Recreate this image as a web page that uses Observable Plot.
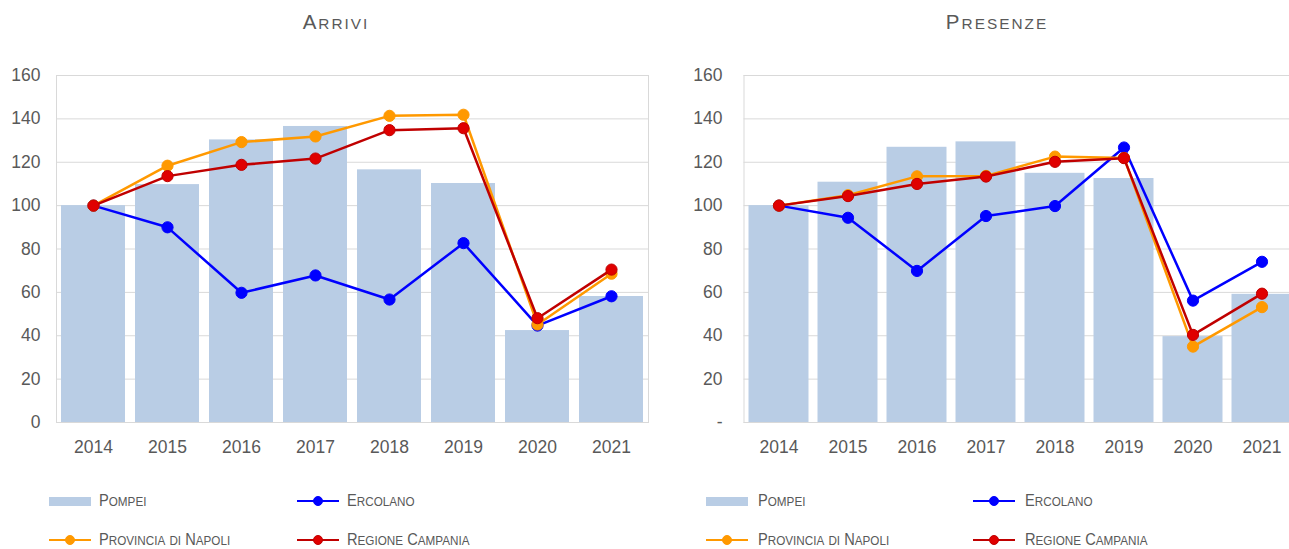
<!DOCTYPE html>
<html>
<head>
<meta charset="utf-8">
<script src="https://cdn.jsdelivr.net/npm/d3@7"></script>
<script src="https://cdn.jsdelivr.net/npm/@observablehq/plot@0.6"></script>
<style>
  html, body { margin: 0; padding: 0; background: #fff; }
  body { width: 1289px; height: 549px; overflow: hidden; position: relative;
         font-family: "Liberation Sans", Arial, sans-serif; color: #595959; }
  .title { position: absolute; top: 8px; height: 28px; line-height: 28px; text-align: center;
           font-size: 20.5px; letter-spacing: 2px; color: #595959; white-space: nowrap; }
  .title .sc { font-size: 75%; }
  .leg .sc { font-size: 80%; }
  .chart { position: absolute; top: 45px; width: 660px; }
  .leg { position: absolute; font-size: 17px; color: #595959;
         line-height: 22px; white-space: nowrap; transform: scaleX(0.86); transform-origin: 0 50%; }
  .sw { position: absolute; }
</style>
</head>
<body>
<script>
// ---- Data ----
const years = ["2014", "2015", "2016", "2017", "2018", "2019", "2020", "2021"];
const yTicks = [0, 20, 40, 60, 80, 100, 120, 140, 160];

const arriviPompei    = [100, 109.7, 130.3, 136.5, 116.5, 110.2, 42.4, 58.1];
const arriviErcolano  = [100, 90.0, 59.8, 67.8, 56.7, 82.7, 44.7, 58.2];
const arriviProvincia = [100, 118.4, 129.3, 131.9, 141.4, 141.9, 45.2, 68.6];
const arriviRegione   = [100, 113.6, 118.8, 121.7, 134.8, 135.7, 48.1, 70.5];

const presenzePompei    = [100, 110.8, 126.9, 129.4, 114.9, 112.5, 39.6, 59.1];
const presenzeErcolano  = [100, 94.4, 69.9, 95.2, 99.8, 126.8, 56.2, 74.1];
const presenzeProvincia = [100, 104.8, 113.5, 113.7, 122.6, 122.0, 35.0, 53.2];
const presenzeRegione   = [100, 104.4, 110.0, 113.4, 120.2, 121.9, 40.4, 59.4];

const seriesNames = ["Pompei", "Ercolano", "Provincia di Napoli", "Regione Campania"];
const titles = ["Arrivi", "Presenze"];

// ---- Styles ----
const barColor = "#b9cde5";
const lineStyles = [
  {stroke: "#0000ff", fill: "#0000ff", dotStroke: "#0000ff"},
  {stroke: "#ff9900", fill: "#ff9900", dotStroke: "#ff9900"},
  {stroke: "#c00000", fill: "#e00000", dotStroke: "#c00000"}
];

// manual small caps: uppercase letters full size, lowercase letters uppercased at reduced size
function smallCaps(s) {
  let out = "";
  for (const ch of s) {
    if (ch !== ch.toUpperCase()) out += '<span class="sc">' + ch.toUpperCase() + "</span>";
    else out += ch;
  }
  return out;
}

function makeChart(pompei, lines, opts) {
  const rows = years.map((y, i) => ({year: y, pompei: pompei[i]}));
  const marks = [
    Plot.gridY(yTicks, {stroke: "#d9d9d9", strokeOpacity: 1, strokeWidth: 1}),
    Plot.barY(rows, {x: "year", y: "pompei", fill: barColor, insetLeft: opts.inset, insetRight: opts.inset}),
    Plot.frame({stroke: "#d9d9d9", strokeWidth: 1}),
    Plot.axisY(yTicks, {tickSize: 0, tickPadding: opts.yPad, tickFormat: opts.fmt, fontSize: 17.5, fill: "#595959"}),
    Plot.axisX({tickSize: 0, tickPadding: 18, fontSize: 17.5, fill: "#595959"})
  ];
  lines.forEach((vals, k) => {
    const d = years.map((y, i) => ({year: y, v: vals[i]}));
    const st = lineStyles[k];
    marks.push(Plot.line(d, {x: "year", y: "v", stroke: st.stroke, strokeWidth: 2.5}));
    marks.push(Plot.dot(d, {x: "year", y: "v", r: 5.6, fill: st.fill, stroke: st.dotStroke, strokeWidth: 1}));
  });
  return Plot.plot({
    width: opts.width, height: 420,
    marginTop: 30, marginBottom: 43, marginLeft: opts.ml, marginRight: opts.mr,
    style: {fontFamily: "'Liberation Sans', Arial, sans-serif", color: "#595959", background: "transparent", overflow: "visible", maxWidth: "none"},
    x: {domain: years, padding: 0, label: null, axis: null},
    y: {domain: [0, 160], label: null, axis: null},
    marks
  });
}

function addEl(html, cls, style) {
  const el = document.createElement("div");
  el.className = cls;
  Object.assign(el.style, style);
  el.innerHTML = html;
  document.body.appendChild(el);
  return el;
}

function addLegend(x0, x1, textOff) {
  const r1 = 501, r2 = 540;
  addEl("", "sw", {left: x0 + "px", top: (r1 - 4.5) + "px", width: "42px", height: "9px", background: barColor});
  addEl(smallCaps(seriesNames[0]), "leg", {left: (x0 + textOff) + "px", top: (r1 - 11) + "px"});
  const lineSample = (x, y, st) => {
    addEl("", "sw", {left: x + "px", top: (y - 1.25) + "px", width: "42px", height: "2.5px", background: st.stroke});
    addEl("", "sw", {left: (x + 21 - 5) + "px", top: (y - 5) + "px", width: "10px", height: "10px", borderRadius: "50%", background: st.fill, boxSizing: "border-box", border: "1px solid " + st.dotStroke});
  };
  lineSample(x1, r1, lineStyles[0]);
  addEl(smallCaps(seriesNames[1]), "leg", {left: (x1 + textOff) + "px", top: (r1 - 11) + "px"});
  lineSample(x0, r2, lineStyles[1]);
  addEl(smallCaps(seriesNames[2]), "leg", {left: (x0 + textOff) + "px", top: (r2 - 11) + "px"});
  lineSample(x1, r2, lineStyles[2]);
  addEl(smallCaps(seriesNames[3]), "leg", {left: (x1 + textOff) + "px", top: (r2 - 11) + "px"});
}

// Titles
addEl(smallCaps(titles[0]), "title", {left: "0px", width: "672px"});
addEl(smallCaps(titles[1]), "title", {left: "660px", width: "674px"});

// Charts
const c1 = makeChart(arriviPompei, [arriviErcolano, arriviProvincia, arriviRegione],
  {width: 660, ml: 56, mr: 12, inset: 5, yPad: 16, fmt: d => String(d)});
const w1 = addEl("", "chart", {left: "0px"});
w1.appendChild(c1);

const c2 = makeChart(presenzePompei, [presenzeErcolano, presenzeProvincia, presenzeRegione],
  {width: 660, ml: 83.5, mr: 24.5, inset: 4.5, yPad: 21.5, fmt: d => d === 0 ? "-" : String(d)});
const w2 = addEl("", "chart", {left: "660px"});
w2.appendChild(c2);

// Legends
addLegend(49, 297, 50);
addLegend(706, 973, 52);
</script>
</body>
</html>
